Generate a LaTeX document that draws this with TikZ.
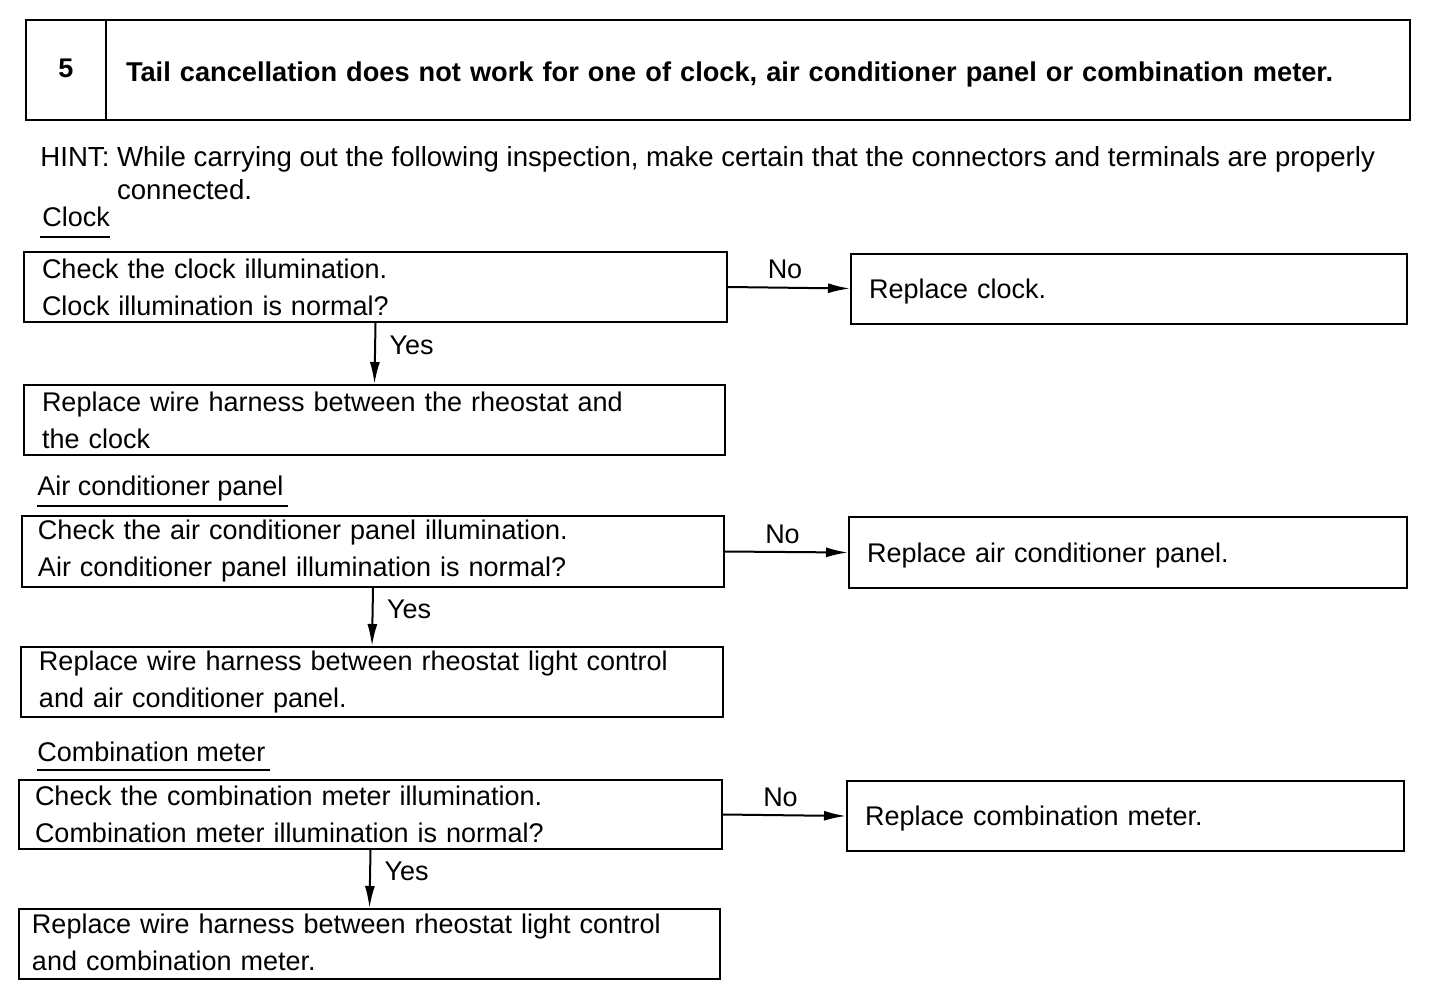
\documentclass[tikz,border=0pt]{standalone}
\usepackage{fontspec}
\setmainfont{Liberation Sans}
\usetikzlibrary{arrows.meta,calc}
\newcommand{\lowerby}[2]{\raisebox{-#1}[\height][\depth]{#2}}
\begin{document}
\begin{tikzpicture}[x=0.5pt,y=-0.5pt,
  every node/.style={font=\fontsize{13.5pt}{18.5pt}\selectfont},
  box/.style={draw,line width=1pt,inner xsep=9pt,inner ysep=0pt,align=left,minimum height=35pt},
  hbox/.style={draw,line width=1pt,inner sep=0pt,minimum height=50pt},
  arr/.style={line width=1pt,-{Latex[length=11pt,width=5pt]}},
  lbl/.style={inner sep=0pt,anchor=west},
  ul/.style={line width=0.8pt}]
\useasboundingbox (0,0) rectangle (1456,1002);
% header
\node[hbox,minimum width=40pt,font=\fontsize{13.5pt}{16pt}\selectfont\bfseries] (hnum) at (66,70) {\lowerby{-1pt}{5}};
\node[hbox,minimum width=652pt,text width=632pt,inner xsep=10pt,align=left,font=\fontsize{13.6pt}{16pt}\selectfont\bfseries] (htitle) at (758,70)
  {\lowerby{2pt}{Tail cancellation does not work for one of clock, air conditioner panel or combination meter.}};
% hint
\node[inner sep=0pt,anchor=north west,align=left,font=\fontsize{13.8pt}{16.5pt}\selectfont] (hint) at (40,146)
  {HINT: While carrying out the following inspection, make certain that the connectors and terminals are properly\\\phantom{HINT: }connected.};
% Clock
\node[lbl] (sec1) at (42,217) {Clock};
\draw[ul] (40,237) -- (110,237);
\node[box,minimum width=351.5pt,text width=333.5pt] (b1) at (375.5,287) {Check the clock illumination.\\Clock illumination is normal?};
\node[box,minimum width=278pt,text width=260pt] (r1) at (1129,288.5) {\lowerby{1.5pt}{Replace clock.}};
\node[box,minimum width=350.5pt,text width=332.5pt] (b2) at (374.5,420) {Replace wire harness between the rheostat and\\the clock};
\draw[arr] (b1.east) -- node[above=0.5pt,xshift=-2pt]{No} (r1.west);
\draw[arr] (b1.south) -- node[right=3.5pt,yshift=4pt]{Yes} (b2.north);
% Air conditioner panel
\node[lbl] (sec2) at (37,489) {Air conditioner panel};
\draw[ul] (37,506) -- (288,506);
\node[box,minimum width=351pt,text width=335pt,inner xsep=8pt,minimum height=35.5pt] (b3) at (373,551.5) {Check the air conditioner panel illumination.\\Air conditioner panel illumination is normal?};
\node[box,minimum width=279pt,text width=261pt,minimum height=35.5pt] (r2) at (1128,552.5) {\lowerby{1.5pt}{Replace air conditioner panel.}};
\node[box,minimum width=351pt,text width=333pt] (b4) at (372,682) {Replace wire harness between rheostat light control\\and air conditioner panel.};
\draw[arr] (b3.east) -- node[above=0.5pt,xshift=-2pt]{No} (r2.west);
\draw[arr] (b3.south) -- node[right=3.5pt,yshift=4pt]{Yes} (b4.north);
% Combination meter
\node[lbl] (sec3) at (37,752) {Combination meter};
\draw[ul] (37,770) -- (270,770);
\node[box,minimum width=351.5pt,text width=335.5pt,inner xsep=8pt,minimum height=34.5pt] (b5) at (370.5,814.5) {Check the combination meter illumination.\\Combination meter illumination is normal?};
\node[box,minimum width=278.5pt,text width=260.5pt] (r3) at (1125.5,816) {\lowerby{1.5pt}{Replace combination meter.}};
\node[box,minimum width=350.5pt,text width=337.5pt,inner xsep=6.5pt] (b6) at (369.5,944) {\raisebox{1.5pt}{\parbox[b]{337.5pt}{Replace wire harness between rheostat light control\\and combination meter.}}};
\draw[arr] (b5.east) -- node[above=0.5pt,xshift=-2pt]{No} (r3.west);
\draw[arr] (b5.south) -- node[right=3.5pt,yshift=4pt]{Yes} (b6.north);
\end{tikzpicture}
\end{document}
